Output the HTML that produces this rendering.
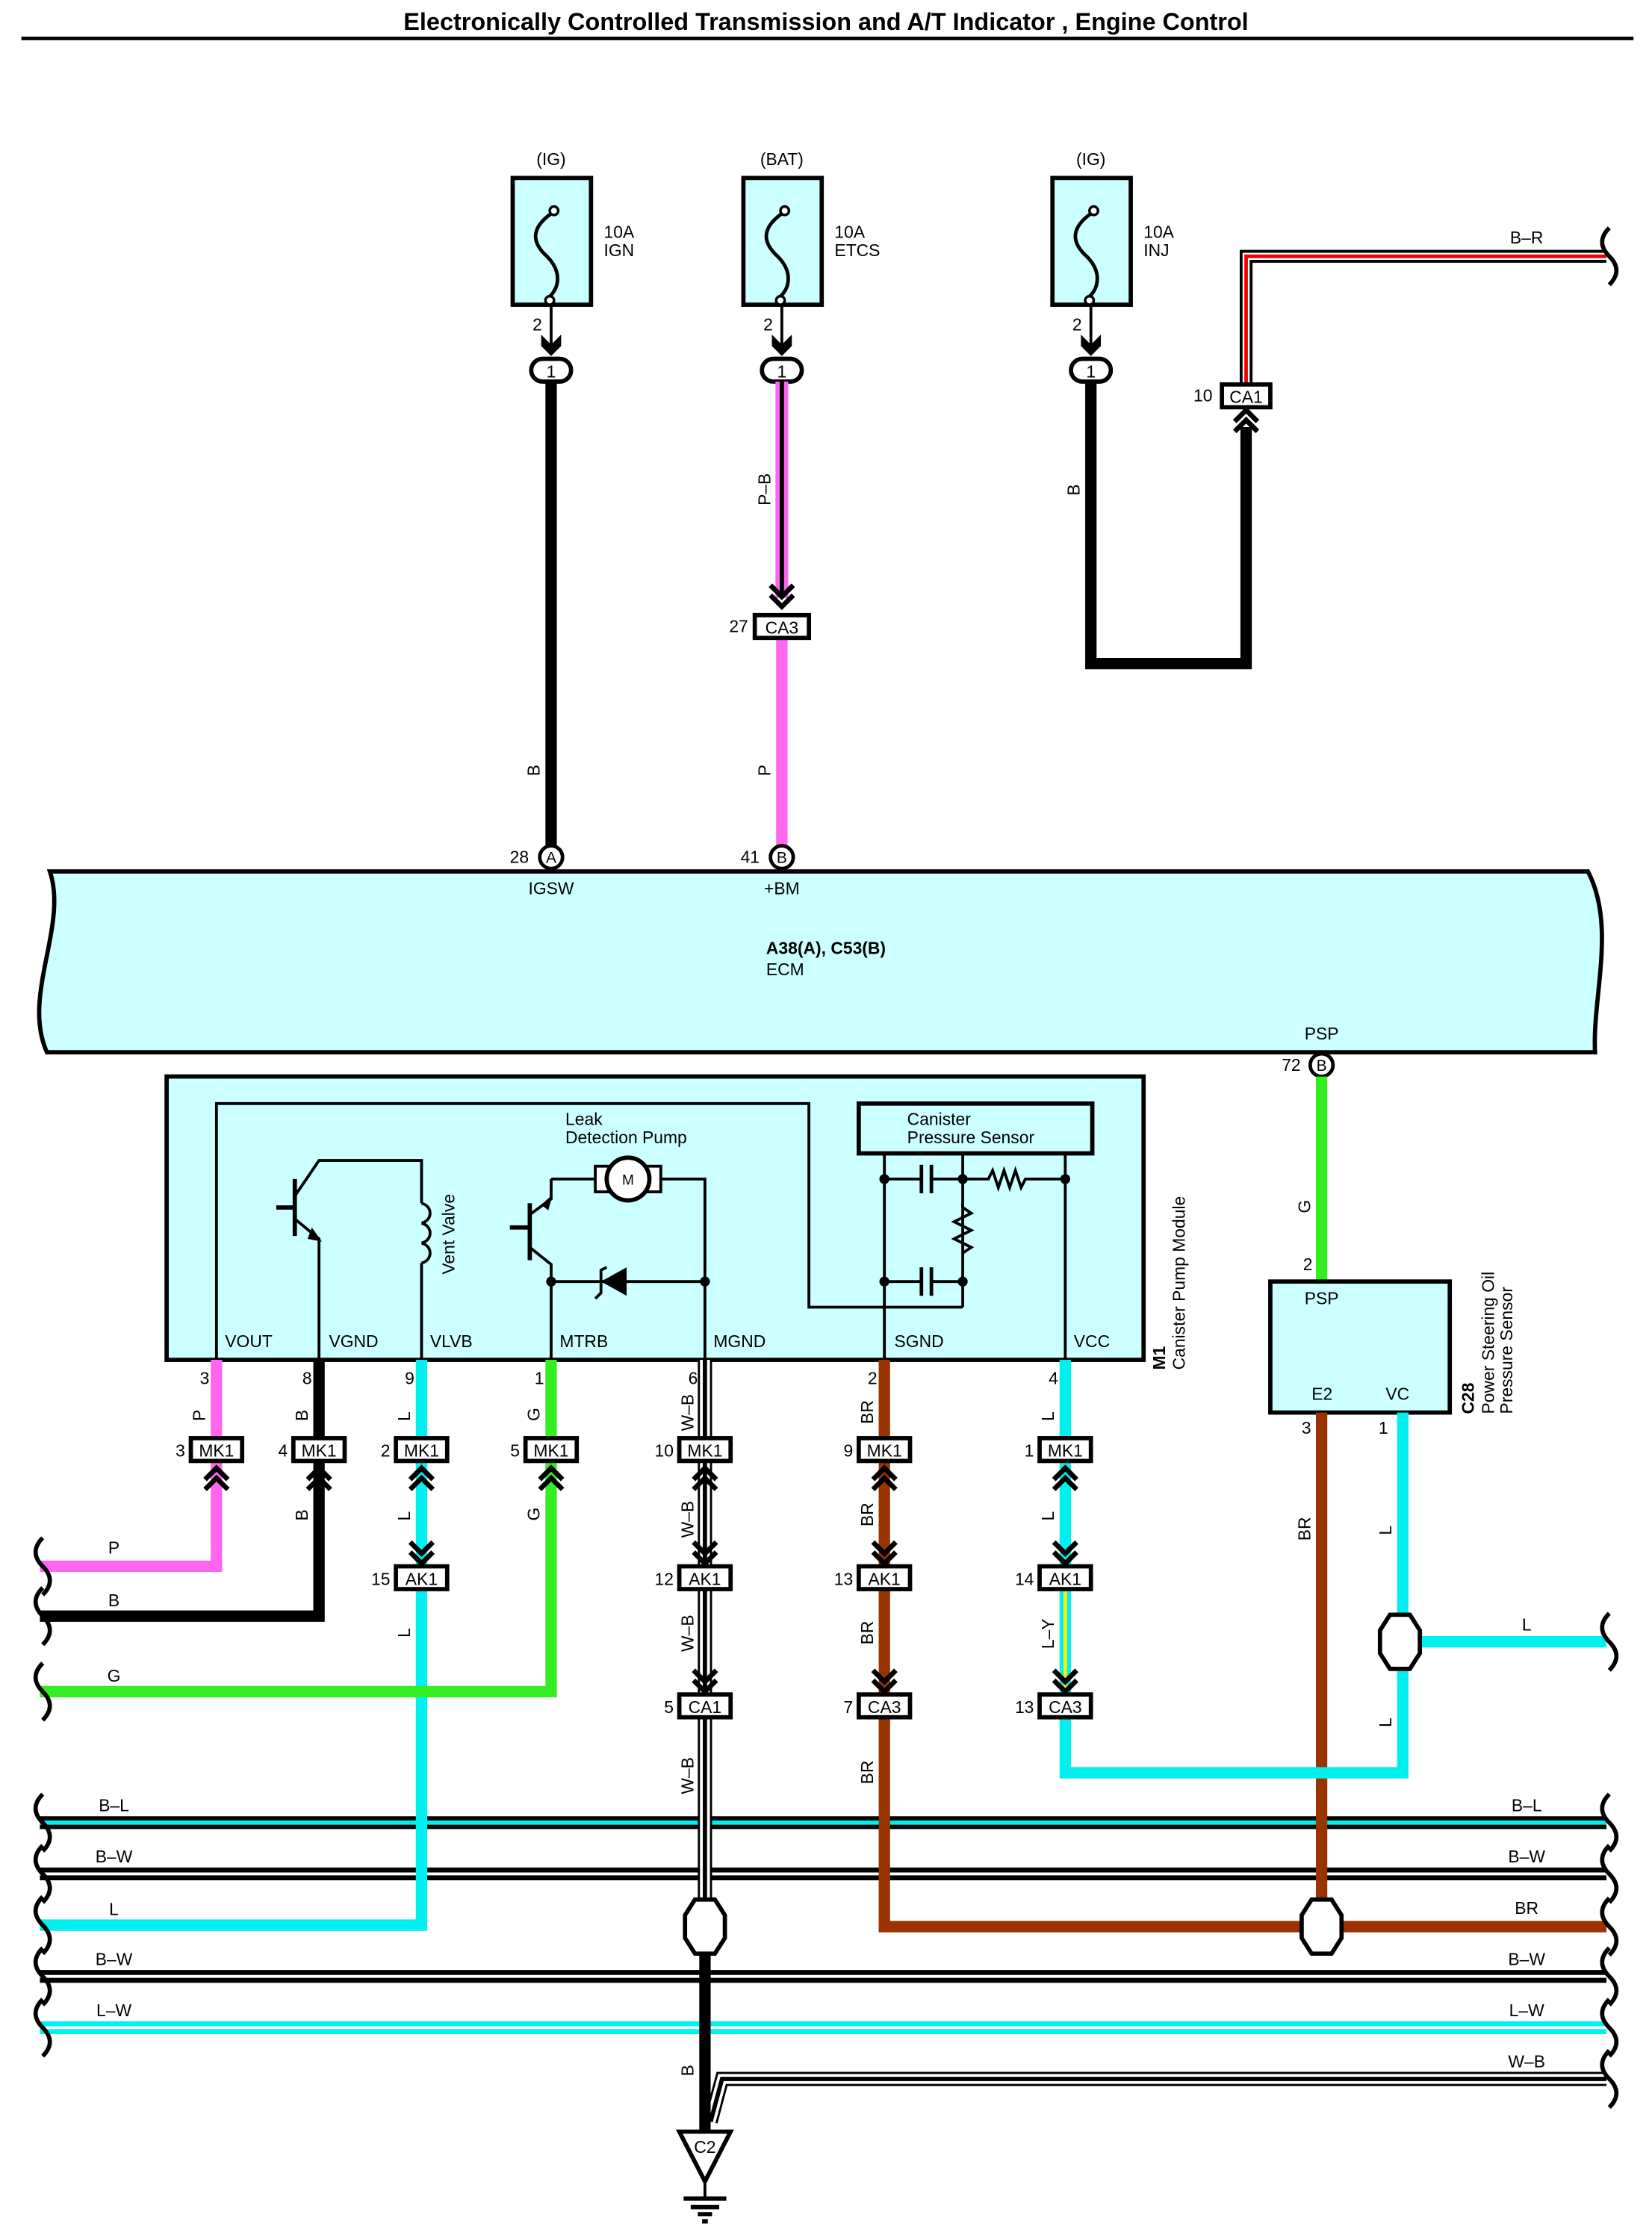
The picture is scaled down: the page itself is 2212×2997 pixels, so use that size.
<!DOCTYPE html>
<html><head><meta charset="utf-8"><style>
html,body{margin:0;padding:0;background:#fff}
svg{display:block}
text{font-family:"Liberation Sans",Arial,sans-serif;font-size:12px;fill:#000}
</style></head><body>
<svg width="2212" height="2997" viewBox="0 0 1160 1571.7" preserveAspectRatio="none" xmlns="http://www.w3.org/2000/svg">
<defs>
<g id="cu" fill="none" stroke="#000" stroke-width="3.5"><polyline points="-8,6 0,-2 8,6"/><polyline points="-8,13 0,5 8,13"/></g>
<g id="cd" fill="none" stroke="#000" stroke-width="3.5"><polyline points="-8,-6 0,2 8,-6"/><polyline points="-8,-13 0,-5 8,-13"/></g>
<path id="brL" d="M30,-20 q-10,10 0,20 q10,10 0,20" fill="none" stroke="#000" stroke-width="3"/>
<path id="brR" d="M1130,-20 q-10,10 0,20 q10,10 0,20" fill="none" stroke="#000" stroke-width="3"/>
<polygon id="hex" points="-7,-19 7,-19 14,-8 14,8 7,19 -7,19 -14,8 -14,-8" fill="#fff" stroke="#000" stroke-width="3"/>
</defs>

<!-- Title -->
<text x="580" y="21" text-anchor="middle" style="font-size:17px;font-weight:bold">Electronically Controlled Transmission and A/T Indicator , Engine Control</text>
<line x1="15" y1="27" x2="1147" y2="27" stroke="#000" stroke-width="2.5"/>

<!-- Fuses -->
<g stroke="#000" stroke-width="3" fill="#ccffff">
<rect x="360" y="125" width="55" height="89"/>
<rect x="522" y="125" width="55" height="89"/>
<rect x="739" y="125" width="55" height="89"/>
</g>
<g fill="none" stroke="#000" stroke-width="2.5">
<path d="M387,150 c-14,10 -14,20 -3,30 c10,10 10,22 0,30"/>
<path d="M549,150 c-14,10 -14,20 -3,30 c10,10 10,22 0,30"/>
<path d="M766,150 c-14,10 -14,20 -3,30 c10,10 10,22 0,30"/>
</g>
<g fill="#fff" stroke="#000" stroke-width="1.8">
<circle cx="389" cy="148" r="3"/><circle cx="386" cy="211" r="3"/>
<circle cx="551" cy="148" r="3"/><circle cx="548" cy="211" r="3"/>
<circle cx="768" cy="148" r="3"/><circle cx="765" cy="211" r="3"/>
</g>
<g stroke="#000" stroke-width="2"><line x1="387" y1="214" x2="387" y2="245"/><line x1="549" y1="214" x2="549" y2="245"/><line x1="766" y1="214" x2="766" y2="245"/></g>
<g fill="#000">
<polygon points="380,235 387,242 394,235 394,243 387,250 380,243"/>
<polygon points="542,235 549,242 556,235 556,243 549,250 542,243"/>
<polygon points="759,235 766,242 773,235 773,243 766,250 759,243"/>
</g>
<g fill="#fff" stroke="#000" stroke-width="3">
<rect x="373" y="252" width="28" height="16" rx="8"/>
<rect x="535" y="252" width="28" height="16" rx="8"/>
<rect x="752" y="252" width="28" height="16" rx="8"/>
</g>
<text x="387" y="265" text-anchor="middle">1</text><text x="549" y="265" text-anchor="middle">1</text><text x="766" y="265" text-anchor="middle">1</text>
<text x="387" y="116" text-anchor="middle">(IG)</text><text x="549" y="116" text-anchor="middle">(BAT)</text><text x="766" y="116" text-anchor="middle">(IG)</text>
<text x="424" y="167">10A</text><text x="424" y="180">IGN</text>
<text x="586" y="167">10A</text><text x="586" y="180">ETCS</text>
<text x="803" y="167">10A</text><text x="803" y="180">INJ</text>
<text x="374" y="232">2</text><text x="536" y="232">2</text><text x="753" y="232">2</text>

<!-- Top wires -->
<line x1="387" y1="268" x2="387" y2="595" stroke="#000" stroke-width="8"/>
<line x1="549" y1="268" x2="549" y2="420" stroke="#ff66ee" stroke-width="9"/>
<line x1="549" y1="268" x2="549" y2="420" stroke="#000" stroke-width="3"/>
<use href="#cd" x="549" y="424"/>
<line x1="549" y1="448" x2="549" y2="595" stroke="#ff66ee" stroke-width="8"/>
<rect x="530" y="432" width="38" height="16" fill="#fff" stroke="#000" stroke-width="3"/>
<text x="549" y="445" text-anchor="middle">CA3</text><text x="512" y="444">27</text>
<polyline points="766,268 766,466 875,466 875,300" fill="none" stroke="#000" stroke-width="8"/>
<use href="#cu" x="875" y="290"/>
<polyline points="875,270 875,180 1128,180" fill="none" stroke="#000" stroke-width="9"/>
<polyline points="875,270 875,180 1128,180" fill="none" stroke="#fff" stroke-width="5"/>
<polyline points="875,270 875,180 1128,180" fill="none" stroke="#e00" stroke-width="2.5"/>
<rect x="858" y="270" width="34" height="16" fill="#fff" stroke="#000" stroke-width="3"/>
<text x="875" y="283" text-anchor="middle">CA1</text><text x="838" y="282">10</text>
<text x="1072" y="171" text-anchor="middle">B–R</text>
<use href="#brR" y="180"/>
<text transform="translate(379,545) rotate(-90)">B</text>
<text transform="translate(541,355) rotate(-90)">P–B</text>
<text transform="translate(541,545) rotate(-90)">P</text>
<text transform="translate(758,348) rotate(-90)">B</text>

<!-- ECM -->
<path d="M35,612 H1115 C1135,650 1118,700 1120,739 H33 C15,700 48,650 35,612 Z" fill="#ccffff" stroke="#000" stroke-width="3"/>
<circle cx="387" cy="602" r="8" fill="#fff" stroke="#000" stroke-width="2.5"/><text x="387" y="606" text-anchor="middle" style="font-size:11px">A</text>
<circle cx="549" cy="602" r="8" fill="#fff" stroke="#000" stroke-width="2.5"/><text x="549" y="606" text-anchor="middle" style="font-size:11px">B</text>
<text x="358" y="606">28</text><text x="520" y="606">41</text>
<text x="387" y="628" text-anchor="middle">IGSW</text><text x="549" y="628" text-anchor="middle">+BM</text>
<text x="538" y="670" style="font-weight:bold">A38(A), C53(B)</text><text x="538" y="685">ECM</text>
<text x="928" y="730" text-anchor="middle">PSP</text>
<circle cx="928" cy="748" r="8" fill="#fff" stroke="#000" stroke-width="2.5"/><text x="928" y="752" text-anchor="middle" style="font-size:11px">B</text>
<text x="900" y="752">72</text>
<line x1="928" y1="756" x2="928" y2="900" stroke="#33ee22" stroke-width="8"/>
<text transform="translate(920,852) rotate(-90)">G</text><text x="915" y="892">2</text>

<!-- C28 -->
<rect x="892" y="900" width="126" height="92" fill="#ccffff" stroke="#000" stroke-width="3"/>
<text x="916" y="916">PSP</text><text x="921" y="983">E2</text><text x="973" y="983">VC</text>
<text x="914" y="1007">3</text><text x="968" y="1007">1</text>
<text transform="translate(1035,993) rotate(-90)" style="font-weight:bold">C28</text>
<text transform="translate(1049,993) rotate(-90)">Power Steering Oil</text>
<text transform="translate(1062,993) rotate(-90)">Pressure Sensor</text>

<!-- Module -->
<rect x="117" y="756" width="686" height="199" fill="#ccffff" stroke="#000" stroke-width="3"/>
<text transform="translate(818,962) rotate(-90)" style="font-weight:bold">M1</text>
<text transform="translate(832,962) rotate(-90)">Canister Pump Module</text>
<g fill="none" stroke="#000" stroke-width="2">
<polyline points="152,955 152,775 568,775 568,918 676,918"/>
<line x1="207" y1="828" x2="207" y2="868" stroke-width="3"/>
<line x1="194" y1="848" x2="207" y2="848" stroke-width="3"/>
<polyline points="207,840 224,815 296,815 296,845"/>
<polyline points="207,856 224,870 224,955"/>
<path d="M296,845 c8,2 8,12 0,14 M296,859 c8,2 8,12 0,14 M296,873 c8,2 8,12 0,14"/>
<line x1="296" y1="887" x2="296" y2="955"/>
<polyline points="387,828 424,828"/><polyline points="458,828 495,828 495,955"/>
<line x1="372" y1="845" x2="372" y2="885" stroke-width="3"/>
<line x1="358" y1="862" x2="372" y2="862" stroke-width="3"/>
<polyline points="372,853 387,842 387,828"/>
<polyline points="372,876 387,888 387,955"/>
<line x1="387" y1="900" x2="495" y2="900"/>
<line x1="621" y1="810" x2="621" y2="955"/>
<line x1="676" y1="810" x2="676" y2="918"/>
<line x1="748" y1="810" x2="748" y2="955"/>
<line x1="621" y1="828" x2="647" y2="828"/><line x1="654" y1="828" x2="676" y2="828"/>
<line x1="621" y1="900" x2="647" y2="900"/><line x1="654" y1="900" x2="676" y2="900"/>
<line x1="647" y1="818" x2="647" y2="838" stroke-width="2.5"/><line x1="654" y1="818" x2="654" y2="838" stroke-width="2.5"/>
<line x1="647" y1="890" x2="647" y2="910" stroke-width="2.5"/><line x1="654" y1="890" x2="654" y2="910" stroke-width="2.5"/>
<polyline points="676,828 694,828 697,822 701,834 705,822 709,834 713,822 717,834 720,828 748,828"/>
<polyline points="676,845 676,848 682,852 670,858 682,864 670,870 682,876 676,880"/>
</g>
<rect x="603" y="775" width="164" height="35" fill="#ccffff" stroke="#000" stroke-width="3"/>
<text x="637" y="790">Canister</text><text x="637" y="803">Pressure Sensor</text>
<text x="397" y="790">Leak</text><text x="397" y="803">Detection Pump</text>
<text transform="translate(319,895) rotate(-90)">Vent Valve</text>
<polygon points="219,862 226,872 216,870" fill="#000"/>
<polygon points="380,846 388,839 385,850" fill="#000"/>
<rect x="418" y="819" width="46" height="18" fill="#fff" stroke="#000" stroke-width="2"/>
<circle cx="441" cy="828" r="15" fill="#fff" stroke="#000" stroke-width="3"/>
<text x="441" y="832" text-anchor="middle" style="font-size:10px">M</text>
<polygon points="422,900 440,890 440,910" fill="#000"/>
<polyline points="426,890 422,892 422,908 418,912" fill="none" stroke="#000" stroke-width="2"/>
<g fill="#000">
<circle cx="387" cy="900" r="3.5"/><circle cx="495" cy="900" r="3.5"/>
<circle cx="621" cy="828" r="3.5"/><circle cx="676" cy="828" r="3.5"/><circle cx="748" cy="828" r="3.5"/>
<circle cx="621" cy="900" r="3.5"/><circle cx="676" cy="900" r="3.5"/>
</g>
<text x="158" y="946">VOUT</text><text x="231" y="946">VGND</text><text x="302" y="946">VLVB</text>
<text x="393" y="946">MTRB</text><text x="501" y="946">MGND</text><text x="628" y="946">SGND</text><text x="754" y="946">VCC</text>

<!-- Bus lines -->
<g>
<line x1="28" y1="1280" x2="1128" y2="1280" stroke="#000" stroke-width="9"/><line x1="28" y1="1280" x2="1128" y2="1280" stroke="#00f0f0" stroke-width="3"/>
<line x1="28" y1="1316" x2="1128" y2="1316" stroke="#000" stroke-width="9"/><line x1="28" y1="1316" x2="1128" y2="1316" stroke="#fff" stroke-width="2"/>
<line x1="28" y1="1388" x2="1128" y2="1388" stroke="#000" stroke-width="9"/><line x1="28" y1="1388" x2="1128" y2="1388" stroke="#fff" stroke-width="2"/>
<line x1="28" y1="1424" x2="1128" y2="1424" stroke="#00f0f0" stroke-width="9"/><line x1="28" y1="1424" x2="1128" y2="1424" stroke="#fff" stroke-width="2"/>
</g>
<polyline points="152,955 152,1100 28,1100" fill="none" stroke="#ff66ee" stroke-width="8"/>
<polyline points="224,955 224,1135 28,1135" fill="none" stroke="#000" stroke-width="8"/>
<polyline points="296,955 296,1352 28,1352" fill="none" stroke="#00f0f0" stroke-width="8"/>
<polyline points="387,955 387,1188 28,1188" fill="none" stroke="#33ee22" stroke-width="8"/>
<g fill="none">
<polyline points="495,955 495,1335" stroke="#000" stroke-width="10"/>
<polyline points="495,955 495,1335" stroke="#fff" stroke-width="7"/>
<polyline points="495,955 495,1335" stroke="#000" stroke-width="3"/>
</g>
<polyline points="621,955 621,1353 1128,1353" fill="none" stroke="#993300" stroke-width="8"/>
<polyline points="928,992 928,1353" fill="none" stroke="#993300" stroke-width="8"/>
<polyline points="748,955 748,1198" fill="none" stroke="#00f0f0" stroke-width="8"/>
<line x1="748" y1="1116" x2="748" y2="1190" stroke="#ffee00" stroke-width="2.5"/>
<polyline points="748,1198 748,1245 985,1245 985,992" fill="none" stroke="#00f0f0" stroke-width="8"/>
<line x1="985" y1="1153" x2="1128" y2="1153" stroke="#00f0f0" stroke-width="8"/>
<g fill="none">
<polyline points="499,1490 507,1460 1128,1460" stroke="#000" stroke-width="10"/>
<polyline points="499,1490 507,1460 1128,1460" stroke="#fff" stroke-width="7"/>
<polyline points="499,1490 507,1460 1128,1460" stroke="#000" stroke-width="3"/>
</g>
<line x1="495" y1="1370" x2="495" y2="1500" stroke="#000" stroke-width="8"/>
<polygon points="477,1497 513,1497 495,1532" fill="#fff" stroke="#000" stroke-width="3"/>
<text x="495" y="1512" text-anchor="middle">C2</text>
<g stroke="#000"><line x1="495" y1="1532" x2="495" y2="1544" stroke-width="2"/>
<line x1="480" y1="1544" x2="510" y2="1544" stroke-width="3"/><line x1="485" y1="1550" x2="505" y2="1550" stroke-width="3"/><line x1="490" y1="1555" x2="500" y2="1555" stroke-width="3"/><line x1="493" y1="1560" x2="497" y2="1560" stroke-width="3"/></g>

<use href="#hex" x="495" y="1353"/>
<use href="#hex" x="928" y="1353"/>
<use href="#hex" x="983" y="1153"/>

<use href="#cu" x="152" y="1033"/><use href="#cu" x="224" y="1033"/><use href="#cu" x="296" y="1033"/><use href="#cu" x="387" y="1033"/>
<use href="#cu" x="495" y="1033"/><use href="#cu" x="621" y="1033"/><use href="#cu" x="748" y="1033"/>
<use href="#cd" x="296" y="1096"/><use href="#cd" x="495" y="1096"/><use href="#cd" x="621" y="1096"/><use href="#cd" x="748" y="1096"/>
<use href="#cd" x="495" y="1186"/><use href="#cd" x="621" y="1186"/><use href="#cd" x="748" y="1186"/>

<g fill="#fff" stroke="#000" stroke-width="3">
<rect x="134" y="1010" width="36" height="16"/><rect x="206" y="1010" width="36" height="16"/><rect x="278" y="1010" width="36" height="16"/><rect x="369" y="1010" width="36" height="16"/>
<rect x="477" y="1010" width="36" height="16"/><rect x="603" y="1010" width="36" height="16"/><rect x="730" y="1010" width="36" height="16"/>
<rect x="278" y="1100" width="36" height="16"/><rect x="477" y="1100" width="36" height="16"/><rect x="603" y="1100" width="36" height="16"/><rect x="730" y="1100" width="36" height="16"/>
<rect x="477" y="1190" width="36" height="16"/><rect x="603" y="1190" width="36" height="16"/><rect x="730" y="1190" width="36" height="16"/>
</g>
<g text-anchor="middle">
<text x="152" y="1023">MK1</text><text x="224" y="1023">MK1</text><text x="296" y="1023">MK1</text><text x="387" y="1023">MK1</text>
<text x="495" y="1023">MK1</text><text x="621" y="1023">MK1</text><text x="748" y="1023">MK1</text>
<text x="296" y="1113">AK1</text><text x="495" y="1113">AK1</text><text x="621" y="1113">AK1</text><text x="748" y="1113">AK1</text>
<text x="495" y="1203">CA1</text><text x="621" y="1203">CA3</text><text x="748" y="1203">CA3</text>
</g>
<g text-anchor="end">
<text x="130" y="1023">3</text><text x="202" y="1023">4</text><text x="274" y="1023">2</text><text x="365" y="1023">5</text>
<text x="473" y="1023">10</text><text x="599" y="1023">9</text><text x="726" y="1023">1</text>
<text x="274" y="1113">15</text><text x="473" y="1113">12</text><text x="599" y="1113">13</text><text x="726" y="1113">14</text>
<text x="473" y="1203">5</text><text x="599" y="1203">7</text><text x="726" y="1203">13</text>
<text x="147" y="972">3</text><text x="219" y="972">8</text><text x="291" y="972">9</text><text x="382" y="972">1</text>
<text x="490" y="972">6</text><text x="616" y="972">2</text><text x="743" y="972">4</text>
</g>
<g>
<text transform="translate(144,998) rotate(-90)">P</text>
<text transform="translate(216,998) rotate(-90)">B</text>
<text transform="translate(288,998) rotate(-90)">L</text>
<text transform="translate(379,998) rotate(-90)">G</text>
<text transform="translate(487,1005) rotate(-90)">W–B</text>
<text transform="translate(613,1000) rotate(-90)">BR</text>
<text transform="translate(740,998) rotate(-90)">L</text>
<text transform="translate(216,1068) rotate(-90)">B</text>
<text transform="translate(288,1068) rotate(-90)">L</text>
<text transform="translate(379,1068) rotate(-90)">G</text>
<text transform="translate(487,1080) rotate(-90)">W–B</text>
<text transform="translate(613,1072) rotate(-90)">BR</text>
<text transform="translate(740,1068) rotate(-90)">L</text>
<text transform="translate(288,1150) rotate(-90)">L</text>
<text transform="translate(487,1160) rotate(-90)">W–B</text>
<text transform="translate(613,1155) rotate(-90)">BR</text>
<text transform="translate(740,1158) rotate(-90)">L–Y</text>
<text transform="translate(487,1260) rotate(-90)">W–B</text>
<text transform="translate(613,1253) rotate(-90)">BR</text>
<text transform="translate(920,1082) rotate(-90)">BR</text>
<text transform="translate(977,1078) rotate(-90)">L</text>
<text transform="translate(977,1213) rotate(-90)">L</text>
<text transform="translate(487,1458) rotate(-90)">B</text>
</g>
<g text-anchor="middle">
<text x="80" y="1091">P</text><text x="80" y="1128">B</text><text x="80" y="1181">G</text>
<text x="80" y="1272">B–L</text><text x="80" y="1308">B–W</text><text x="80" y="1345">L</text><text x="80" y="1380">B–W</text><text x="80" y="1416">L–W</text>
<text x="1072" y="1145">L</text>
<text x="1072" y="1272">B–L</text><text x="1072" y="1308">B–W</text><text x="1072" y="1344">BR</text><text x="1072" y="1380">B–W</text><text x="1072" y="1416">L–W</text><text x="1072" y="1452">W–B</text>
</g>
<use href="#brL" y="1100"/><use href="#brL" y="1135"/><use href="#brL" y="1188"/>
<use href="#brL" y="1280"/><use href="#brL" y="1316"/><use href="#brL" y="1352"/><use href="#brL" y="1388"/><use href="#brL" y="1424"/>
<use href="#brR" y="1153"/><use href="#brR" y="1280"/><use href="#brR" y="1316"/><use href="#brR" y="1353"/><use href="#brR" y="1388"/><use href="#brR" y="1424"/><use href="#brR" y="1460"/>
</svg>
</body></html>
